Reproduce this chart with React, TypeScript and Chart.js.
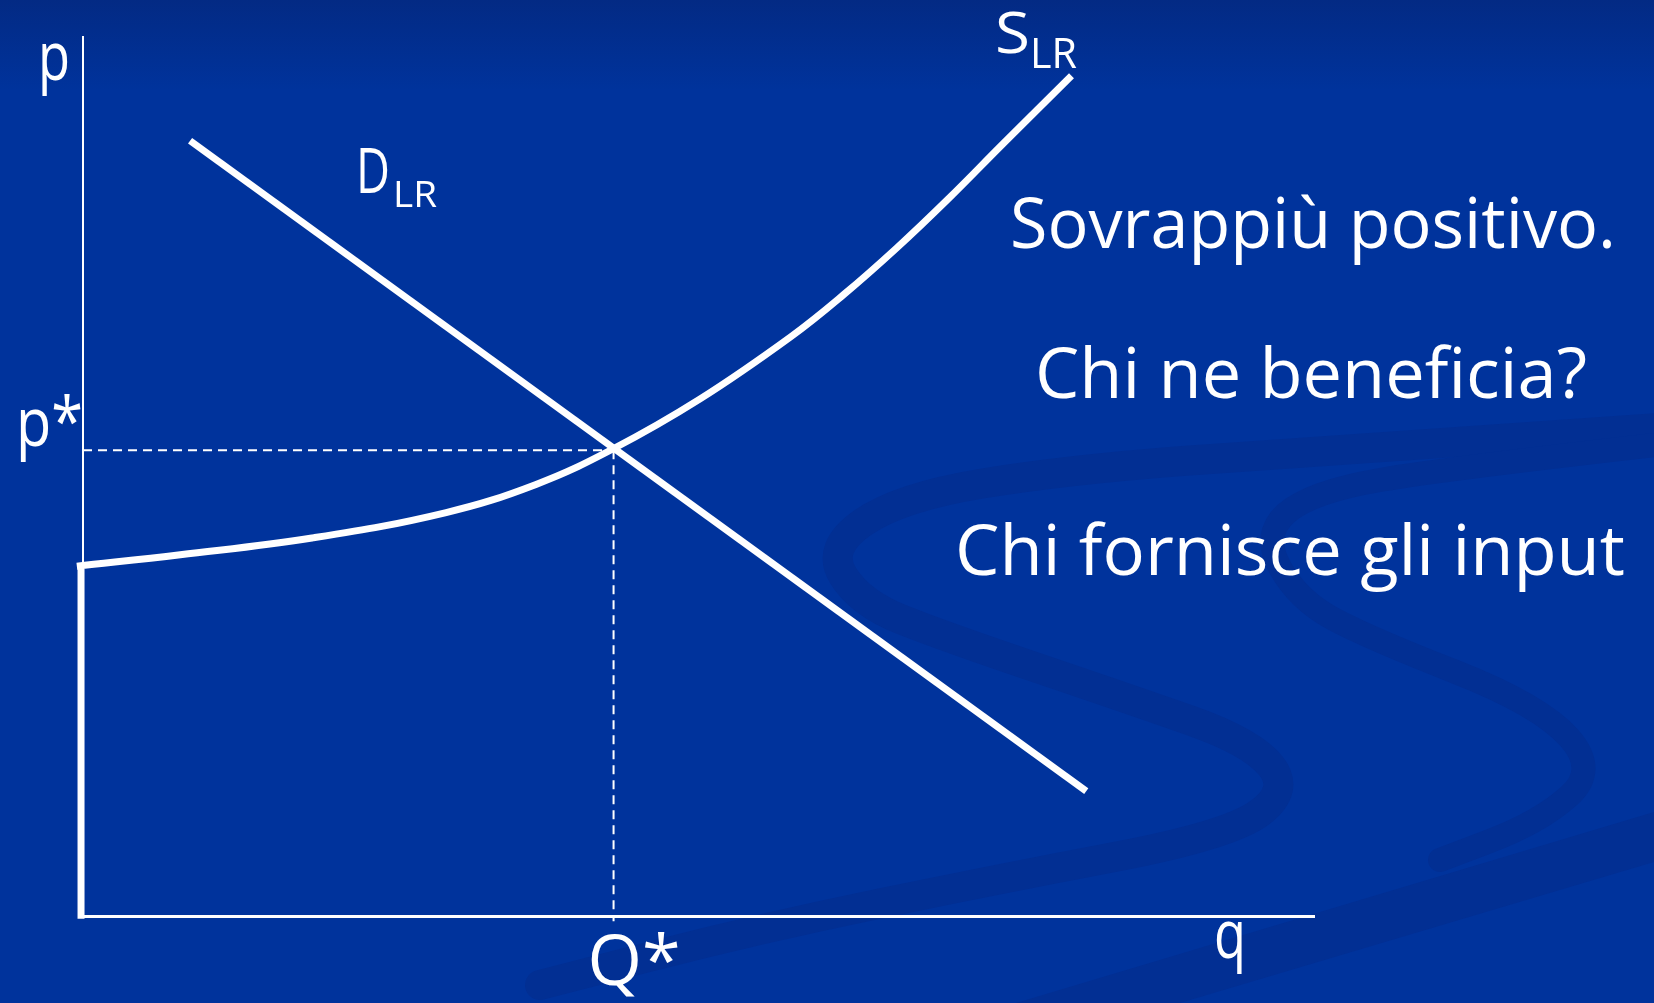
import React, { useEffect, useRef } from "react";
import { Chart, registerables } from "chart.js";

Chart.register(...registerables);

const W = 1654;
const H = 1003;

// Long-run supply curve (q, p) in axis units (0..100 on both axes)
const supplyQ = [-0.5, 7.9, 18.6, 29.5, 36.8, 43.0, 50.1, 57.5, 61.8, 66.1, 70.3, 74.7, 80.3];
const supplyP = [39.8, 41.1, 43.0, 45.9, 49.1, 53.1, 58.8, 65.9, 70.7, 76.0, 81.6, 87.8, 95.6];

// Vertical part of supply at q = 0 (below minimum price)
const floorQ = [-0.16, -0.16];
const floorP = [-0.3, 39.5];

// Long-run demand line
const demandQ = [8.7, 81.5];
const demandP = [88.2, 14.2];

// Equilibrium
const qStar = 43.1;
const pStar = 53.0;

// Text labels
const axisLabelP = "p";
const axisLabelQ = "q";
const pStarLabel = "p*";
const qStarLabel = "Q*";
const supplyLabel = ["S", "LR"];
const demandLabel = ["D", "LR"];
const textLines = ["Sovrappiù positivo.", "Chi ne beneficia?", "Chi fornisce gli input"];

const FONT = '"Open Sans", "DejaVu Sans", sans-serif';

function pts(xs: number[], ys: number[]) {
  return xs.map((x, i) => ({ x, y: ys[i] }));
}

function drawFit(
  ctx: CanvasRenderingContext2D,
  text: string,
  left: number,
  baseline: number,
  width: number,
  size: number
) {
  ctx.save();
  ctx.font = `normal ${size}px ${FONT}`;
  const w = ctx.measureText(text).width;
  ctx.translate(left, baseline);
  ctx.scale(width / w, 1);
  ctx.textAlign = "left";
  ctx.textBaseline = "alphabetic";
  ctx.fillStyle = "#ffffff";
  ctx.fillText(text, 0, 0);
  ctx.restore();
}

function smoothPath(ctx: CanvasRenderingContext2D, p: number[][]) {
  ctx.beginPath();
  ctx.moveTo(p[0][0], p[0][1]);
  for (let i = 1; i < p.length - 1; i++) {
    const mx = (p[i][0] + p[i + 1][0]) / 2;
    const my = (p[i][1] + p[i + 1][1]) / 2;
    ctx.quadraticCurveTo(p[i][0], p[i][1], mx, my);
  }
  const l = p[p.length - 1];
  ctx.lineTo(l[0], l[1]);
}

const backgroundPlugin = {
  id: "slideBackground",
  beforeDraw(chart: any) {
    const ctx: CanvasRenderingContext2D = chart.ctx;
    ctx.save();
    const g = ctx.createLinearGradient(0, 0, 0, 90);
    g.addColorStop(0, "rgb(3,42,132)");
    g.addColorStop(1, "rgb(0,51,156)");
    ctx.fillStyle = g;
    ctx.fillRect(0, 0, W, H);

    const band = "rgb(2,47,147)";
    ctx.strokeStyle = band;
    ctx.lineCap = "round";
    ctx.lineJoin = "round";

    ctx.lineWidth = 30;
    smoothPath(ctx, [
      [1700, 425], [1300, 452], [1065, 470], [900, 497], [826, 548], [860, 603],
      [943, 636], [1126, 698], [1252, 742], [1290, 790], [1230, 835], [1004, 878],
      [761, 928], [540, 985],
    ]);
    ctx.stroke();

    ctx.lineWidth = 24;
    smoothPath(ctx, [
      [1700, 440], [1450, 468], [1310, 492], [1262, 535], [1298, 600], [1369, 638],
      [1540, 705], [1598, 770], [1540, 822], [1440, 860],
    ]);
    ctx.stroke();

    ctx.fillStyle = band;
    ctx.beginPath();
    ctx.moveTo(W, 812);
    ctx.lineTo(W, 862);
    ctx.lineTo(1180, 1003);
    ctx.lineTo(1016, 1003);
    ctx.closePath();
    ctx.fill();
    ctx.restore();
  },
};

const labelPlugin = {
  id: "slideLabels",
  afterDraw(chart: any) {
    const ctx: CanvasRenderingContext2D = chart.ctx;
    const xs = chart.scales.x;
    const ys = chart.scales.y;
    const left = xs.left;
    const bottom = ys.bottom;
    const pY = ys.getPixelForValue(pStar);
    const qX = xs.getPixelForValue(qStar);

    drawFit(ctx, axisLabelP, left - 45, 80, 32, 68);
    drawFit(ctx, pStarLabel, left - 67, pY - 4, 67, 68);
    drawFit(ctx, qStarLabel, qX - 26, bottom + 69, 93, 70);
    drawFit(ctx, axisLabelQ, 1214, bottom + 42, 32, 68);

    drawFit(ctx, demandLabel[0], 356, 193, 34, 63);
    drawFit(ctx, demandLabel[1], 393, 207, 44, 37);
    drawFit(ctx, supplyLabel[0], 995, 53, 35, 56);
    drawFit(ctx, supplyLabel[1], 1030, 68, 47, 42);

    drawFit(ctx, textLines[0], 1010, 248, 606, 70);
    drawFit(ctx, textLines[1], 1035, 398, 552, 70);
    drawFit(ctx, textLines[2], 955, 575, 670, 70);
  },
};

export default function App() {
  const ref = useRef<HTMLCanvasElement>(null);

  useEffect(() => {
    const canvas = ref.current;
    if (!canvas) return;
    const white = "#ffffff";
    const chart = new Chart(canvas, {
      type: "scatter",
      data: {
        datasets: [
          {
            label: "S_LR",
            data: pts(supplyQ, supplyP),
            showLine: true,
            borderColor: white,
            borderWidth: 7,
            pointRadius: 0,
            tension: 0.4,
            borderCapStyle: "butt",
            clip: false,
          } as any,
          {
            label: "S_LR floor",
            data: pts(floorQ, floorP),
            showLine: true,
            borderColor: white,
            borderWidth: 7,
            pointRadius: 0,
            borderCapStyle: "butt",
            clip: false,
          } as any,
          {
            label: "D_LR",
            data: pts(demandQ, demandP),
            showLine: true,
            borderColor: white,
            borderWidth: 7,
            pointRadius: 0,
            borderCapStyle: "butt",
            clip: false,
          } as any,
          {
            label: "p*",
            data: [
              { x: 0, y: pStar },
              { x: qStar, y: pStar },
            ],
            showLine: true,
            borderColor: white,
            borderWidth: 2,
            borderDash: [9, 6],
            pointRadius: 0,
            clip: false,
          } as any,
          {
            label: "Q*",
            data: [
              { x: qStar, y: pStar },
              { x: qStar, y: -0.6 },
            ],
            showLine: true,
            borderColor: white,
            borderWidth: 2,
            borderDash: [9, 6],
            pointRadius: 0,
            clip: false,
          } as any,
        ],
      },
      options: {
        responsive: false,
        devicePixelRatio: 1,
        animation: false,
        events: [],
        layout: { padding: { left: 83, top: 37, right: W - 1314, bottom: H - 916 } },
        plugins: {
          legend: { display: false },
          tooltip: { enabled: false },
        },
        scales: {
          x: {
            type: "linear",
            min: 0,
            max: 100,
            grid: { display: false, drawTicks: false },
            ticks: { display: false },
            border: { display: true, color: white, width: 3 },
          },
          y: {
            type: "linear",
            min: 0,
            max: 100,
            grid: { display: false, drawTicks: false },
            ticks: { display: false },
            border: { display: true, color: white, width: 2 },
          },
        },
      },
      plugins: [backgroundPlugin, labelPlugin],
    });
    return () => chart.destroy();
  }, []);

  return (
    <div
      style={{
        position: "fixed",
        left: 0,
        top: 0,
        width: W,
        height: H,
        background: "rgb(0,51,156)",
      }}
    >
      <canvas ref={ref} width={W} height={H} style={{ display: "block", width: W, height: H }} />
    </div>
  );
}
